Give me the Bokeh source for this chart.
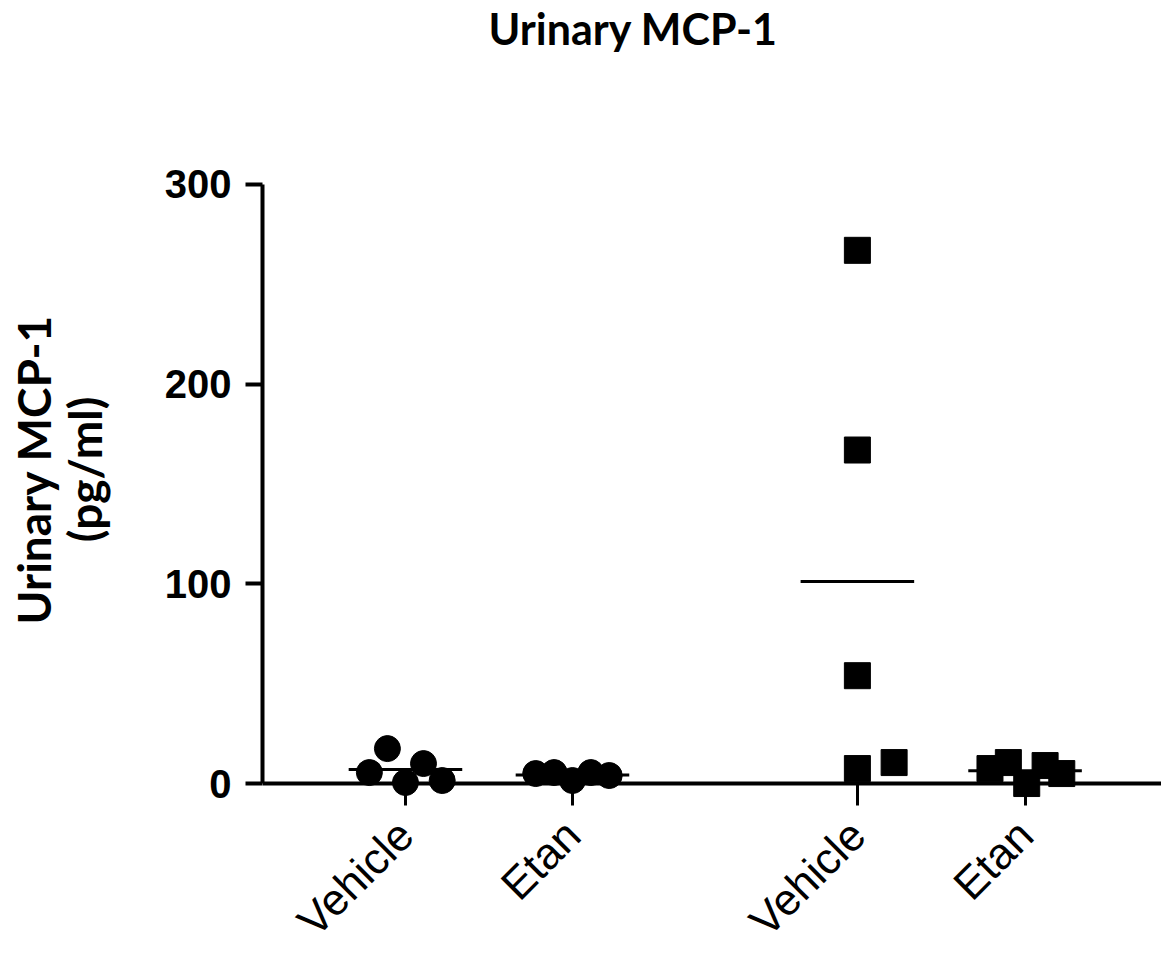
import numpy as np
from bokeh.plotting import figure
from bokeh.models import FixedTicker, Span, Range1d, Title
from bokeh.embed import file_html
from bokeh.resources import INLINE

# ---- data ----
categories = ["Vehicle", "Etan", "Vehicle", "Etan"]
cat_pos = [1.0, 2.0, 3.706, 4.71]
vehicle1 = [5.5, 17.5, 0.5, 10.0, 1.5]
etan1 = [5.0, 5.5, 1.5, 5.5, 4.0]
vehicle2 = [267.0, 167.0, 54.0, 7.5, 10.5]
etan2 = [7.5, 10.5, 0.0, 9.0, 5.0]
y_ticks = [0, 100, 200, 300]

# horizontal scatter spread within each column (x units)
off1 = [-0.216, -0.108, 0.0, 0.108, 0.22]
off_e1 = [-0.22, -0.11, 0.0, 0.11, 0.22]
off2 = [0.0, 0.0, 0.0, 0.0, 0.22]
off_e2 = [-0.21, -0.10, 0.01, 0.12, 0.22]

groups = [(vehicle1, off1, "circle"), (etan1, off_e1, "circle"),
          (vehicle2, off2, "square"), (etan2, off_e2, "square")]

W, H = 1161, 968
p = figure(width=W, height=H, output_backend="svg", toolbar_location=None, title=None,
           x_range=Range1d(0.144, 5.527), y_range=Range1d(-11.0, 325.5),
           min_border_left=262, min_border_right=0, min_border_top=130,
           min_border_bottom=163)
p.outline_line_color = None
p.grid.visible = False
p.background_fill_color = "white"

for (vals, offs, mk), cx in zip(groups, cat_pos):
    xs = [cx + o for o in offs]
    p.scatter(xs, vals, marker=mk, size=26, fill_color="black", line_color="black")
    m = float(np.mean(vals))
    p.segment(x0=[cx - 0.34], y0=[m], x1=[cx + 0.34], y1=[m], line_color="black", line_width=3)

# x axis line at y=0
p.add_layout(Span(location=0, dimension="width", line_color="black", line_width=4))

# y axis
ya = p.yaxis[0]
ya.ticker = FixedTicker(ticks=y_ticks)
ya.bounds = (0, 300)
ya.axis_line_width = 4
ya.major_tick_line_width = 4
ya.major_tick_out = 17
ya.major_tick_in = 0
ya.minor_tick_line_color = None
ya.major_label_standoff = 14
ya.major_label_text_font = "Liberation Sans"
ya.major_label_text_font_style = "bold"
ya.major_label_text_font_size = "40px"
ya.major_label_text_color = "black"
ya.axis_label = "Urinary MCP-1\n(pg/ml)"
ya.axis_label_text_font = "Lato"
ya.axis_label_text_font_style = "bold"
ya.axis_label_text_font_size = "46px"
ya.axis_label_text_line_height = 0.93
ya.axis_label_text_color = "black"
ya.axis_label_standoff = 50

# x axis
xa = p.xaxis[0]
xa.ticker = FixedTicker(ticks=cat_pos)
xa.major_label_overrides = {c: t for c, t in zip(cat_pos, categories)}
xa.axis_line_color = None
xa.major_tick_in = 22
xa.major_tick_out = 0
xa.major_tick_line_width = 3
xa.minor_tick_line_color = None
xa.major_label_orientation = np.pi / 4
xa.major_label_standoff = 22
xa.major_label_text_font = "Liberation Sans"
xa.major_label_text_font_size = "44px"
xa.major_label_text_color = "black"

# spacer panel between frame and title, then the title itself
p.add_layout(Title(text=" ", standoff=56, text_font_size="20px"), "above")
p.add_layout(Title(text="Urinary MCP-1", align="left", offset=226, vertical_align="bottom",
                   standoff=0, text_font="Lato", text_font_style="bold",
                   text_font_size="43px", text_color="black"), "above")

open("out.html", "w").write(file_html(p, INLINE))
